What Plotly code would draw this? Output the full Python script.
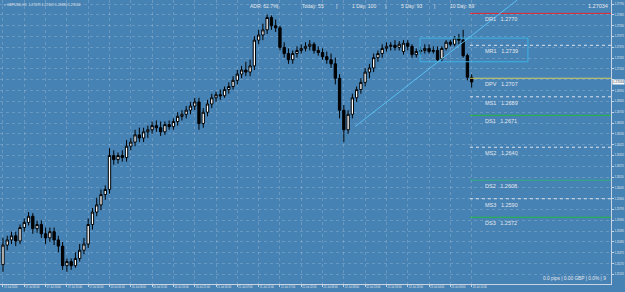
import plotly.graph_objects as go

# ---- OHLC data (GBPUSD H1) ----
opens = [1.2526,1.2545,1.2550,1.2554,1.2549,1.2562,1.2567,1.2573,1.2561,1.2565,
         1.2556,1.2552,1.2558,1.2550,1.2544,1.2525,1.2529,1.2525,1.2532,1.2540,
         1.2546,1.2565,1.2577,1.2584,1.2594,1.2599,1.2632,1.2628,1.2632,1.2630,
         1.2641,1.2645,1.2652,1.2649,1.2655,1.2657,1.2661,1.2659,1.2655,1.2662,
         1.2660,1.2665,1.2670,1.2672,1.2676,1.2680,1.2684,1.2663,1.2674,1.2682,
         1.2688,1.2691,1.2690,1.2696,1.2699,1.2705,1.2711,1.2715,1.2713,1.2719,
         1.2744,1.2749,1.2754,1.2766,1.2758,1.2756,1.2737,1.2731,1.2725,1.2731,
         1.2734,1.2736,1.2738,1.2740,1.2734,1.2732,1.2728,1.2725,1.2721,1.2707,
         1.2676,1.2657,1.2672,1.2688,1.2696,1.2703,1.2713,1.2717,1.2727,1.2731,
         1.2736,1.2738,1.2739,1.2737,1.2733,1.2741,1.2738,1.2730,1.2733,1.2734,
         1.2736,1.2733,1.2734,1.2726,1.2736,1.2742,1.2740,1.2746,1.2744,1.2729,
         1.27079]
highs = [1.2552,1.2554,1.2558,1.2558,1.2565,1.2571,1.2577,1.2576,1.2569,1.2569,
         1.2562,1.2562,1.2562,1.2554,1.2548,1.2532,1.2532,1.2538,1.2546,1.2552,
         1.2571,1.2581,1.2591,1.2599,1.2603,1.2639,1.2637,1.2635,1.2637,1.2647,
         1.2649,1.2657,1.2659,1.2659,1.2661,1.2665,1.2666,1.2665,1.2665,1.2666,
         1.2668,1.2674,1.2676,1.2680,1.2684,1.2688,1.2688,1.2678,1.2686,1.2692,
         1.2694,1.2696,1.2699,1.2703,1.2709,1.2715,1.2719,1.2723,1.2725,1.2748,
         1.2754,1.2760,1.2769,1.2768,1.2764,1.2758,1.2742,1.2736,1.2734,1.2738,
         1.2740,1.2742,1.2744,1.2742,1.2738,1.2736,1.2733,1.2731,1.2727,1.2711,
         1.2681,1.2676,1.2692,1.2699,1.2707,1.2717,1.2721,1.2731,1.2734,1.2740,
         1.2742,1.2742,1.2744,1.2743,1.2744,1.2744,1.2740,1.2736,1.2738,1.2740,
         1.2740,1.2738,1.2738,1.2738,1.2744,1.2744,1.2748,1.2750,1.2754,1.2731,
         1.27109]
lows = [1.2519,1.2540,1.2546,1.2544,1.2546,1.2558,1.2564,1.2556,1.2557,1.2552,
        1.2546,1.2548,1.2545,1.2538,1.2521,1.2519,1.2521,1.2523,1.2529,1.2536,
        1.2542,1.2560,1.2573,1.2579,1.2589,1.2595,1.2623,1.2624,1.2626,1.2626,
        1.2637,1.2641,1.2645,1.2645,1.2649,1.2653,1.2655,1.2651,1.2652,1.2657,
        1.2657,1.2661,1.2666,1.2668,1.2672,1.2676,1.2657,1.2659,1.2670,1.2678,
        1.2684,1.2686,1.2688,1.2692,1.2696,1.2701,1.2707,1.2709,1.2709,1.2715,
        1.2740,1.2744,1.2750,1.2754,1.2752,1.2734,1.2727,1.2721,1.2721,1.2727,
        1.2731,1.2733,1.2734,1.2731,1.2729,1.2725,1.2721,1.2717,1.2701,1.2668,
        1.2645,1.2653,1.2668,1.2684,1.2692,1.2699,1.2707,1.2713,1.2723,1.2727,
        1.2733,1.2734,1.2734,1.2734,1.2730,1.2734,1.2727,1.2727,1.2730,1.2731,
        1.2731,1.2731,1.2723,1.2723,1.2734,1.2738,1.2738,1.2740,1.2727,1.2705,
        1.26980]
closes = [1.2545,1.2550,1.2554,1.2549,1.2562,1.2567,1.2573,1.2561,1.2565,1.2556,
          1.2552,1.2558,1.2550,1.2544,1.2525,1.2529,1.2525,1.2532,1.2540,1.2546,
          1.2565,1.2577,1.2584,1.2594,1.2599,1.2632,1.2628,1.2632,1.2630,1.2641,
          1.2645,1.2652,1.2649,1.2655,1.2657,1.2661,1.2659,1.2655,1.2662,1.2660,
          1.2665,1.2670,1.2672,1.2676,1.2680,1.2684,1.2663,1.2674,1.2682,1.2688,
          1.2691,1.2690,1.2696,1.2699,1.2705,1.2711,1.2715,1.2713,1.2719,1.2744,
          1.2749,1.2754,1.2766,1.2758,1.2756,1.2737,1.2731,1.2725,1.2731,1.2734,
          1.2736,1.2738,1.2740,1.2734,1.2732,1.2728,1.2725,1.2721,1.2707,1.2676,
          1.2657,1.2672,1.2688,1.2696,1.2703,1.2713,1.2717,1.2727,1.2731,1.2736,
          1.2738,1.2739,1.2737,1.2740,1.2741,1.2738,1.2730,1.2733,1.2734,1.2736,
          1.2733,1.2734,1.2725,1.2736,1.2742,1.2740,1.2746,1.2744,1.2729,1.2708,
          1.27034]
bar_index = list(range(len(closes)))

# ---- time axis labels (every 5 bars) ----
time_tick_index = list(range(0, 111, 5))
time_tick_labels = ["17 Jul 2020", "17 Jul 05:00", "17 Jul 10:00", "17 Jul 15:00",
                    "17 Jul 20:00", "20 Jul 01:00", "20 Jul 06:00", "20 Jul 11:00",
                    "20 Jul 16:00", "20 Jul 21:00", "21 Jul 02:00", "21 Jul 07:00",
                    "21 Jul 12:00", "21 Jul 17:00", "21 Jul 22:00", "22 Jul 03:00",
                    "22 Jul 08:00", "22 Jul 13:00", "22 Jul 18:00", "22 Jul 23:00",
                    "23 Jul 04:00", "23 Jul 09:00", "23 Jul 14:00"]

# ---- price axis ticks (label under the current-price marker is hidden) ----
price_ticks = [1.27790, 1.27685, 1.27580, 1.27475, 1.27370, 1.27265, 1.27160,
               1.27055, 1.26950, 1.26845, 1.26740, 1.26635, 1.26530, 1.26425,
               1.26320, 1.26215, 1.26110, 1.26005, 1.25900, 1.25795, 1.25690,
               1.25585, 1.25480, 1.25375, 1.25270, 1.25165]
price_tick_text = ["" if v == 1.27055 else f"{v:.5f}" for v in price_ticks]

# ---- pivot levels ----
pivot_names = ["DR1", "MR1", "DPV", "MS1", "DS1", "MS2", "DS2", "MS3", "DS3"]
pivot_values = [1.2770, 1.2739, 1.2707, 1.2689, 1.2671, 1.2640, 1.2608, 1.2590, 1.2572]
pivot_colors = ["#e8242c", "#dfe4ec", "#d6cc5e", "#dfe4ec", "#22b83c",
                "#dfe4ec", "#2fb07a", "#dfe4ec", "#22b83c"]
pivot_dash = ["solid", "dot", "solid", "dot", "solid", "dot", "solid", "dot", "solid"]
pivot_start_index = 109.6
pivot_label_index = 112.7

# ---- drawn objects ----
trend_x = [82.6, 120.7]
trend_y = [1.2660, 1.2783]
box_x = [97.9, 123.2]
box_y = [1.2723, 1.2746]

current_price = 1.27034
x_range = [-0.70, 142.7]
y_range = [1.25072, 1.27830]

BG = "#4682b4"
GRID = "rgba(190,205,225,0.30)"
TXT = "#e4e8ee"
FONT = "Arial, Liberation Sans, sans-serif"

fig = go.Figure()
fig.add_trace(go.Candlestick(
    x=bar_index, open=opens, high=highs, low=lows, close=closes,
    increasing=dict(fillcolor="white", line=dict(color="black", width=1)),
    decreasing=dict(fillcolor="black", line=dict(color="black", width=1)),
    whiskerwidth=0, showlegend=False, hoverinfo="skip"))

shapes = []
for name, val, col, dash in zip(pivot_names, pivot_values, pivot_colors, pivot_dash):
    shapes.append(dict(type="line", xref="x", yref="y", x0=pivot_start_index, x1=x_range[1],
                       y0=val, y1=val, line=dict(color=col, width=1, dash=dash)))
shapes.append(dict(type="rect", xref="x", yref="y", x0=box_x[0], x1=box_x[1],
                   y0=box_y[0], y1=box_y[1], line=dict(color="#3db4e6", width=1)))
shapes.append(dict(type="line", xref="x", yref="y", x0=trend_x[0], x1=trend_x[1],
                   y0=trend_y[0], y1=trend_y[1], line=dict(color="#5cc0f0", width=1)))

ann = []
for name, val in zip(pivot_names, pivot_values):
    ann.append(dict(xref="x", yref="y", x=pivot_label_index, y=val, yanchor="top",
                    xanchor="left", yshift=-1, showarrow=False,
                    text=f"{name}&nbsp;&nbsp;&nbsp;{val:.4f}",
                    font=dict(size=5.5, color=TXT, family=FONT)))

ann.append(dict(xref="paper", yref="paper", x=0.004, y=0.997, xanchor="left", yanchor="top",
                showarrow=False, text="▾ GBPUSD,H1  1.27079 1.27109 1.26980 1.27034",
                font=dict(size=3.4, color=TXT, family=FONT)))
top_items = [("ADR: 62.7%", 248), ("|", 275), ("Today: 55", 300), ("|", 334),
             ("1 Day: 100", 350), ("|", 383), ("5 Day: 93", 399), ("|", 432),
             ("10 Day: 89", 448)]
for txt, px in top_items:
    ann.append(dict(xref="paper", yref="paper", x=px / 611, y=0.997, xanchor="left",
                    yanchor="top", showarrow=False, text=txt,
                    font=dict(size=5, color=TXT, family=FONT)))
ann.append(dict(xref="paper", yref="paper", x=0.998, y=0.997, xanchor="right", yanchor="top",
                showarrow=False, text="1.27034", font=dict(size=5.5, color=TXT, family=FONT)))
ann.append(dict(xref="paper", yref="paper", x=0.995, y=0.005, xanchor="right", yanchor="bottom",
                showarrow=False, text="0.0 pips | 0.00 GBP | 0.0% | 9",
                font=dict(size=4.8, color=TXT, family=FONT)))
ann.append(dict(xref="paper", yref="y", x=1.0, y=current_price, xanchor="left",
                yanchor="middle", showarrow=False, text="1.27034", bgcolor="white",
                borderpad=0, xshift=1, font=dict(size=3, color="#203040", family=FONT)))

fig.update_layout(
    width=625, height=292, margin=dict(l=0, r=14, t=0, b=8),
    paper_bgcolor=BG, plot_bgcolor=BG, shapes=shapes, annotations=ann, boxgap=0.22,
    xaxis=dict(range=x_range, rangeslider=dict(visible=False), tickmode="array",
               tickvals=time_tick_index, ticktext=time_tick_labels, tickangle=0,
               ticklabelposition="outside right", tickfont=dict(size=2.6, color=TXT, family=FONT),
               showgrid=True, gridcolor=GRID, griddash="dot", gridwidth=1,
               showline=True, linecolor="#c8d4e4", linewidth=1, ticks="outside",
               ticklen=2, tickcolor="#c8d4e4", zeroline=False, fixedrange=True),
    yaxis=dict(range=y_range, side="right", tickmode="array", tickvals=price_ticks,
               ticktext=price_tick_text,
               tickfont=dict(size=2.6, color=TXT, family=FONT),
               showgrid=True, gridcolor=GRID, griddash="dot", gridwidth=1,
               showline=True, linecolor="#c8d4e4", linewidth=1, ticks="outside",
               ticklen=2, tickcolor="#c8d4e4", zeroline=False, fixedrange=True),
)
fig.write_html("out.html")
